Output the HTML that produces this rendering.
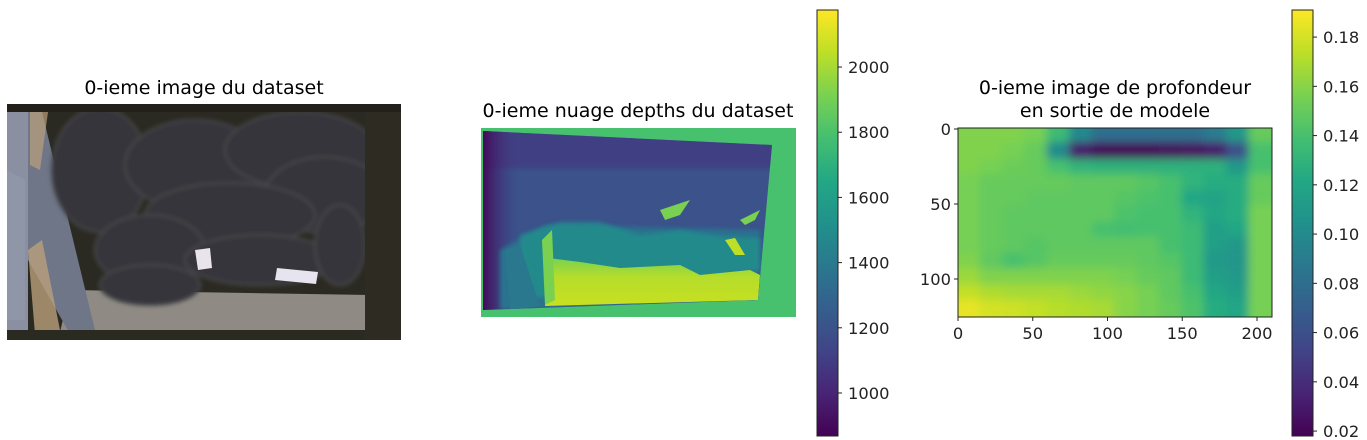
<!DOCTYPE html>
<html><head><meta charset="utf-8">
<style>
html,body{margin:0;padding:0;background:#fff;}
svg{display:block;font-family:"DejaVu Sans","Liberation Sans",sans-serif;}
.t{font-size:19px;fill:#000;}
.k{font-size:16.3px;fill:#222;}
</style></head>
<body>
<svg id="fig" width="1367" height="440" viewBox="0 0 1367 440" xmlns="http://www.w3.org/2000/svg">
<defs>
<linearGradient id="vir" x1="0" y1="1" x2="0" y2="0">
<stop offset="0" stop-color="#440154"/><stop offset=".1" stop-color="#482475"/><stop offset=".2" stop-color="#414487"/><stop offset=".3" stop-color="#355f8d"/><stop offset=".4" stop-color="#2a788e"/><stop offset=".5" stop-color="#21918c"/><stop offset=".6" stop-color="#22a884"/><stop offset=".7" stop-color="#44bf70"/><stop offset=".8" stop-color="#7ad151"/><stop offset=".9" stop-color="#bddf26"/><stop offset="1" stop-color="#fde725"/>
</linearGradient>
<filter id="blur" x="-5%" y="-5%" width="110%" height="110%"><feGaussianBlur stdDeviation="4.5"/></filter>
<filter id="blur2"><feGaussianBlur stdDeviation="2"/></filter>
<clipPath id="hclip"><rect x="958" y="128" width="314" height="189"/></clipPath>
<clipPath id="dclip"><polygon points="483,131 772,145 758,300 483,310"/></clipPath>
<clipPath id="pclip"><rect x="7" y="104" width="394" height="236"/></clipPath>
<linearGradient id="leftdark" x1="0" x2="1"><stop offset="0" stop-color="#440154"/><stop offset="1" stop-color="#3e4a89" stop-opacity="0"/></linearGradient>
<linearGradient id="yel" x1="0" y1="0" x2="0" y2="1"><stop offset="0" stop-color="#7ad151"/><stop offset=".4" stop-color="#b5dd2b"/><stop offset="1" stop-color="#c8e020"/></linearGradient>
</defs>

<!-- Panel 1: photo -->
<g>
<text class="t" x="204" y="94" text-anchor="middle">0-ieme image du dataset</text>
<g clip-path="url(#pclip)">
<rect x="7" y="104" width="394" height="236" fill="#2b2a22"/>
<polygon points="70,290 370,295 370,330 60,332" fill="#8f8b84"/>
<polygon points="7,112 28,112 28,334 7,334" fill="#8a90a2"/>
<polygon points="28,112 42,112 95,330 70,334 28,260" fill="#6f7688"/>
<polygon points="7,170 25,180 25,320 7,320" fill="#8e96a8"/>
<polygon points="28,250 42,240 60,330 35,334" fill="#b9a07c" opacity=".8"/>
<polygon points="30,112 48,112 40,170 30,165" fill="#b9a07c" opacity=".7"/>
<g fill="#35353a" stroke="#48484d" stroke-width="2" filter="url(#blur2)">
<ellipse cx="100" cy="170" rx="48" ry="62"/>
<ellipse cx="195" cy="165" rx="70" ry="45"/>
<ellipse cx="300" cy="150" rx="75" ry="38"/>
<ellipse cx="325" cy="195" rx="60" ry="38"/>
<ellipse cx="230" cy="215" rx="85" ry="32"/>
<ellipse cx="150" cy="250" rx="55" ry="35"/>
<ellipse cx="260" cy="260" rx="75" ry="25"/>
<ellipse cx="150" cy="285" rx="50" ry="20"/>
<ellipse cx="340" cy="245" rx="25" ry="40"/>
</g>
<polygon points="195,250 210,248 212,268 198,270" fill="#e8e4ea"/>
<polygon points="277,268 318,272 316,284 275,280" fill="#e6e4ee"/>
<rect x="7" y="104" width="394" height="8" fill="#222018"/>
<rect x="7" y="330" width="394" height="10" fill="#2b2a20"/>
<rect x="365" y="112" width="36" height="228" fill="#2d2b22"/>
</g>
</g>

<!-- Panel 2: depth -->
<g>
<text class="t" x="638" y="117" text-anchor="middle">0-ieme nuage depths du dataset</text>
<g>
<rect x="481" y="128" width="315" height="189" fill="#48c16e"/>
<g clip-path="url(#dclip)">
<rect x="481" y="128" width="300" height="185" fill="#3b528b"/>
<rect x="481" y="128" width="300" height="40" fill="#453781" opacity=".7" filter="url(#blur2)"/>
<rect x="481" y="128" width="40" height="185" fill="url(#leftdark)"/>
<polygon points="500,250 545,225 760,230 760,300 500,310" fill="#2c728e" filter="url(#blur2)"/>
<polygon points="520,235 560,222 600,222 640,235 680,230 720,236 760,238 760,270 520,300" fill="#21908d" opacity=".8" filter="url(#blur2)"/>
<polygon points="548,258 580,262 620,268 680,265 700,275 750,270 760,275 758,300 545,306" fill="url(#yel)"/>
<polygon points="505,250 520,245 540,306 510,310" fill="#2a788e"/>
<polygon points="542,240 552,230 555,300 545,305" fill="#7ad151"/>
<polygon points="660,210 690,200 680,215 665,220" fill="#7ad151"/>
<polygon points="740,220 760,210 755,220 745,225" fill="#7ad151"/>
<polygon points="725,240 735,238 745,255 735,255" fill="#bddf26"/>
</g>
</g>
<g>
<rect x="817" y="10" width="21" height="426" fill="url(#vir)" stroke="#222" stroke-width="1"/>
<g id="cb1ticks"></g>
</g>
</g>

<!-- Panel 3: heatmap -->
<g>
<text class="t" x="1115" y="94" text-anchor="middle">0-ieme image de profondeur</text>
<text class="t" x="1115" y="117" text-anchor="middle">en sortie de modele</text>
<g clip-path="url(#hclip)"><g id="heat" filter="url(#blur)"></g></g>
<rect x="958" y="128" width="314" height="189" fill="none" stroke="#222" stroke-width="1"/>
<g id="hticks"></g>
<g>
<rect x="1292" y="10" width="21" height="426" fill="url(#vir)" stroke="#222" stroke-width="1"/>
<g id="cb2ticks"></g>
</g>
</g>
</svg>
<script>
const NS="http://www.w3.org/2000/svg";
// Depth colorbar
const cb1Ticks=[1000,1200,1400,1600,1800,2000];
const cb1Min=868, cb1Max=2175;
// Model colorbar
const cb2Ticks=[0.02,0.04,0.06,0.08,0.10,0.12,0.14,0.16,0.18];
const cb2Min=0.018, cb2Max=0.191;
// Heatmap axes
const xTicks=[0,50,100,150,200];
const yTicks=[0,50,100];
const colCenters=[7.5,22.5,37.5,52.5,67.5,82.5,97.5,112.5,127.5,142.5,157.5,172.5,187.5,202.5];
const rowCenters=[5,15,26,36,47,57,68,78,89,99,110,120];
const heat=[
[.158,.158,.158,.155,.135,.10,.08,.08,.08,.08,.08,.09,.11,.15],
[.158,.158,.155,.15,.10,.03,.02,.02,.02,.022,.025,.03,.06,.14],
[.158,.155,.152,.15,.14,.13,.128,.128,.128,.128,.128,.128,.11,.14],
[.155,.15,.15,.15,.15,.148,.148,.148,.145,.14,.13,.125,.125,.15],
[.155,.15,.15,.148,.148,.148,.148,.145,.142,.14,.12,.118,.125,.15],
[.155,.15,.148,.148,.148,.148,.148,.142,.14,.14,.13,.12,.125,.155],
[.155,.15,.148,.148,.148,.148,.14,.138,.14,.14,.135,.115,.12,.155],
[.155,.15,.148,.145,.148,.148,.148,.148,.148,.14,.135,.115,.11,.155],
[.158,.148,.14,.145,.15,.15,.15,.15,.148,.145,.135,.11,.108,.155],
[.165,.158,.158,.158,.158,.158,.158,.155,.15,.148,.135,.115,.11,.155],
[.175,.17,.168,.168,.168,.165,.162,.16,.155,.148,.14,.12,.115,.155],
[.185,.18,.178,.175,.172,.17,.168,.16,.155,.15,.142,.125,.12,.155]
];
const VIR=["#440154","#482475","#414487","#355f8d","#2a788e","#21918c","#22a884","#44bf70","#7ad151","#bddf26","#fde725"];
function hex(h){return [1,3,5].map(i=>parseInt(h.substr(i,2),16));}
function viridis(t){t=Math.max(0,Math.min(1,t));const f=t*10,i=Math.min(9,Math.floor(f)),r=f-i;const a=hex(VIR[i]),b=hex(VIR[i+1]);return "rgb("+a.map((v,k)=>Math.round(v+(b[k]-v)*r)).join(",")+")";}
const X0=958,PXU=1.495,Y0=129,PYU=1.5;
const xs=v=>X0+v*PXU, ys=v=>Y0+v*PYU;
const cb1y=v=>436-(v-cb1Min)/(cb1Max-cb1Min)*426;
const cb2y=v=>436-(v-cb2Min)/(cb2Max-cb2Min)*426;
function el(tag,attrs,parent){const e=document.createElementNS(NS,tag);for(const k in attrs)e.setAttribute(k,attrs[k]);parent.appendChild(e);return e;}
const hg=document.getElementById('heat');
rowCenters.forEach((yc,ri)=>{colCenters.forEach((xc,ci)=>{
 const v=heat[ri][ci];
 const r=el('rect',{x:xs(xc-7.5)-1,y:ys(yc-5.5)-1,width:15*PXU+2,height:11*PYU+2,fill:viridis((v-cb2Min)/(cb2Max-cb2Min))},hg);
 if(ci===0){r.setAttribute('x',xs(xc-7.5)-20);r.setAttribute('width',15*PXU+22);}
 if(ci===colCenters.length-1){r.setAttribute('width',15*PXU+25);}
 if(ri===0){r.setAttribute('y',ys(yc-5.5)-15);r.setAttribute('height',11*PYU+17);}
 if(ri===rowCenters.length-1){r.setAttribute('height',11*PYU+20);}
 
 
});});
const ht=document.getElementById('hticks');
xTicks.forEach(v=>{
 const l=el('line',{x1:xs(v),x2:xs(v),y1:317,y2:321,stroke:'#222'},ht);
 
 
 const t=el('text',{x:xs(v),y:339,'text-anchor':'middle',class:'k'},ht);t.textContent=v;
 
 
});
yTicks.forEach(v=>{
 const l=el('line',{x1:954,x2:958,y1:ys(v),y2:ys(v),stroke:'#222'},ht);
 
 
 const t=el('text',{x:951,y:ys(v)+6,'text-anchor':'end',class:'k'},ht);t.textContent=v;
 
 
});
const c1=document.getElementById('cb1ticks');
cb1Ticks.forEach(v=>{
 const l=el('line',{x1:838,x2:842,y1:cb1y(v),y2:cb1y(v),stroke:'#222'},c1);
 
 
 const t=el('text',{x:848,y:cb1y(v)+6,class:'k'},c1);t.textContent=v;
 
 
});
const c2=document.getElementById('cb2ticks');
cb2Ticks.forEach(v=>{
 const l=el('line',{x1:1313,x2:1317,y1:cb2y(v),y2:cb2y(v),stroke:'#222'},c2);
 
 
 const t=el('text',{x:1323,y:cb2y(v)+6,class:'k'},c2);t.textContent=v.toFixed(2);
 
 
});
</script>
</body></html>
